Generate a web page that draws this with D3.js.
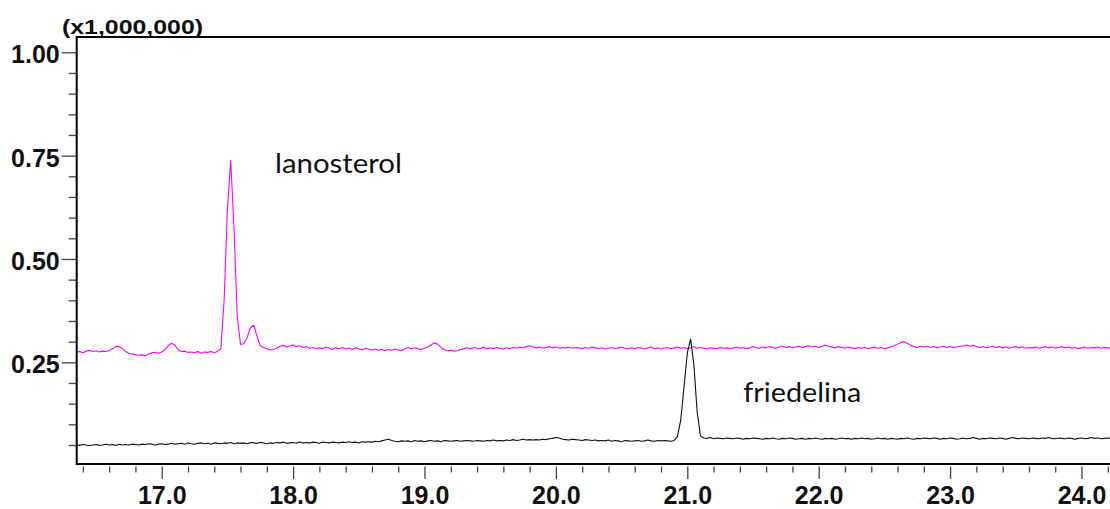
<!DOCTYPE html>
<html>
<head>
<meta charset="utf-8">
<script src="https://cdn.jsdelivr.net/npm/d3@7"></script>
<style>
  html, body { margin: 0; padding: 0; background: #fff; }
  svg { display: block; }
</style>
</head>
<body>
<svg id="chart" width="1110" height="509"></svg>
<script>
// Chromatogram scan grid (retention time, min)
const scanStart = 16.35;
const scanStep = 0.025;

// Detector response in thousands of counts, one value per scan
const lanosterolTrace = [
  274,276,273,277,279,276,278,275,277,276,
  278,283,288,289,283,276,272,270,268,267,
  268,266,270,273,274,272,275,281,290,296,
  292,280,276,277,274,275,273,276,272,275,
  274,276,273,277,282,400,620,739,575,360,
  293,295,310,333,340,313,290,286,283,280,
  281,284,289,291,287,290,292,288,290,286,
  288,284,286,282,285,283,287,284,281,285,
  283,286,282,284,281,285,283,280,284,282,
  280,282,279,281,278,281,279,282,280,278,
  283,286,282,285,283,281,284,287,292,297,
  294,286,281,278,279,277,278,281,283,285,
  282,286,284,283,287,282,285,283,286,284,
  282,285,283,286,284,287,285,288,290,287,
  285,287,284,286,288,285,287,284,286,285,
  287,284,286,285,283,286,284,287,285,283,
  285,282,284,286,283,285,287,284,282,285,
  283,286,284,282,285,287,283,285,282,284,
  286,283,285,287,284,286,283,285,288,284,
  286,284,282,285,284,283,286,284,285,283,
  285,287,284,286,283,285,288,285,284,287,
  285,288,286,284,287,289,286,288,285,287,
  289,286,288,290,287,289,286,288,292,289,
  287,285,288,286,284,287,285,283,286,284,
  286,283,285,287,284,286,283,285,287,290,
  294,298,300,296,291,288,286,289,287,289,
  286,288,285,287,289,286,288,285,287,289,
  290,292,289,291,288,286,288,285,287,289,
  286,288,285,287,284,286,288,285,287,284,
  286,285,287,284,286,288,285,287,284,286,
  288,285,287,284,286,283,285,287,284,286,
  285,287,284,286,285,284
];

const friedelinaTrace = [
  50,49,51,50,48,50,51,49,50,52,
  50,51,49,52,50,51,50,52,51,50,
  52,51,53,52,50,52,53,51,52,54,
  52,53,54,52,55,53,52,54,55,53,
  54,52,55,54,53,55,54,56,53,55,
  54,55,53,56,55,54,56,55,53,55,
  54,56,55,57,54,55,56,54,57,55,
  56,55,57,56,54,57,56,55,57,56,
  55,57,56,58,56,57,55,58,57,58,
  57,59,58,60,62,64,61,59,58,60,
  59,60,58,61,59,60,58,60,61,59,
  60,58,61,60,59,60,61,59,60,61,
  60,59,61,60,59,61,60,62,60,61,
  60,62,61,63,61,62,64,62,63,62,
  63,62,64,63,65,66,68,67,64,63,
  62,64,63,62,61,63,62,61,62,60,
  61,60,62,59,61,60,58,61,60,59,
  60,61,59,60,62,60,59,61,60,61,
  60,59,61,70,110,190,272,306,245,130,
  72,67,66,68,65,67,66,65,67,66,
  65,67,66,64,66,65,67,66,65,64,
  66,65,67,65,64,66,65,67,66,64,
  65,66,64,66,65,67,65,64,66,65,
  66,64,65,67,65,66,64,66,65,67,
  65,66,64,65,67,65,66,64,66,65,
  64,66,65,67,65,64,66,65,67,66,
  65,67,66,64,66,65,67,66,64,65,
  67,65,66,68,66,64,66,65,67,66,
  65,67,66,64,66,68,66,65,67,66,
  65,67,66,65,67,66,68,66,65,67,
  66,65,67,66,64,66,67,65,66,68,
  66,67,65,66,67,66
];

// Axis ticks
const xMajorTicks = [17, 18, 19, 20, 21, 22, 23, 24];
const xMinorTicks = [16.4, 16.6, 16.8, 17.2, 17.4, 17.6, 17.8, 18.2, 18.4, 18.6, 18.8,
  19.2, 19.4, 19.6, 19.8, 20.2, 20.4, 20.6, 20.8, 21.2, 21.4, 21.6, 21.8,
  22.2, 22.4, 22.6, 22.8, 23.2, 23.4, 23.6, 23.8, 24.2];
const yMajorTicks = [0.25, 0.50, 0.75, 1.00];
const yMinorTicks = [0.05, 0.10, 0.15, 0.20, 0.30, 0.35, 0.40, 0.45,
  0.55, 0.60, 0.65, 0.70, 0.80, 0.85, 0.90, 0.95];

const unitLabel = "(x1,000,000)";

// Peak annotations: [text, retention time, intensity (x1,000,000)]
const peakLabels = [
  ["lanosterol", 17.862, 0.707],
  ["friedelina", 21.426, 0.155]
];

const traces = [
  { name: "lanosterol", values: lanosterolTrace, color: "#ff00ff" },
  { name: "friedelina", values: friedelinaTrace, color: "#111111" }
];

// Layout
const svg = d3.select("#chart");
const plot = { left: 76.7, right: 1110, top: 37, bottom: 464 };

const x = d3.scaleLinear().domain([16.353, 24.217]).range([plot.left, plot.right]);
const y = d3.scaleLinear().domain([0.004, 1.037]).range([plot.bottom, plot.top]);

svg.append("defs").append("clipPath").attr("id", "plot-clip")
  .append("rect")
  .attr("x", plot.left).attr("y", plot.top)
  .attr("width", plot.right - plot.left).attr("height", plot.bottom - plot.top);

// Traces
const line = d3.line()
  .x((d, i) => x(scanStart + i * scanStep))
  .y(d => y(d / 1000));

const traceGroup = svg.append("g").attr("clip-path", "url(#plot-clip)");
traces.forEach(t => {
  traceGroup.append("path")
    .datum(t.values)
    .attr("fill", "none")
    .attr("stroke", t.color)
    .attr("stroke-width", 1.1)
    .attr("stroke-linejoin", "round")
    .attr("d", line);
});

// Axes
const tickFont = "'Liberation Sans', Arial, sans-serif";

function styleAxis(g) {
  g.select(".domain").remove();
  g.selectAll(".tick line").attr("stroke", "#444").attr("stroke-width", 1.3);
  g.selectAll(".tick text")
    .attr("fill", "#111")
    .style("font-family", tickFont)
    .style("font-weight", "bold")
    .style("font-size", "25px");
}

svg.append("g")
  .attr("transform", `translate(${plot.left},0)`)
  .call(d3.axisLeft(y).tickValues(yMinorTicks).tickSize(8).tickFormat(""))
  .call(styleAxis);

svg.append("g")
  .attr("transform", `translate(${plot.left},0)`)
  .call(d3.axisLeft(y).tickValues(yMajorTicks).tickSize(15).tickPadding(2)
    .tickFormat(d3.format(".2f")))
  .call(styleAxis)
  .call(g => g.selectAll(".tick text").attr("dy", "0.42em"));

svg.append("g")
  .attr("transform", `translate(0,${plot.bottom + 2.5})`)
  .call(d3.axisBottom(x).tickValues(xMinorTicks).tickSize(6).tickFormat(""))
  .call(styleAxis);

svg.append("g")
  .attr("transform", `translate(0,${plot.bottom + 2.5})`)
  .call(d3.axisBottom(x).tickValues(xMajorTicks).tickSize(12.5).tickPadding(7.5)
    .tickFormat(d3.format(".1f")))
  .call(styleAxis);

// Frame: left, top and bottom edges
const frame = svg.append("g").attr("stroke", "#000").attr("stroke-width", 2).attr("fill", "none");
frame.append("line").attr("x1", plot.left).attr("x2", plot.left).attr("y1", plot.top - 1).attr("y2", plot.bottom + 1);
frame.append("line").attr("x1", plot.left).attr("x2", plot.right).attr("y1", plot.top).attr("y2", plot.top);
frame.append("line").attr("x1", plot.left).attr("x2", plot.right).attr("y1", plot.bottom).attr("y2", plot.bottom);

// Unit label above the intensity axis
svg.append("text")
  .attr("x", 62).attr("y", 34)
  .attr("textLength", 141).attr("lengthAdjust", "spacingAndGlyphs")
  .style("font-family", tickFont)
  .style("font-weight", "bold")
  .style("font-size", "20.5px")
  .attr("fill", "#111")
  .text(unitLabel);

// Peak labels
const labelWidths = { lanosterol: 127, friedelina: 118 };
svg.selectAll("text.peak")
  .data(peakLabels)
  .join("text")
  .attr("class", "peak")
  .attr("x", d => x(d[1]))
  .attr("y", d => y(d[2]))
  .attr("textLength", d => labelWidths[d[0]])
  .attr("lengthAdjust", "spacingAndGlyphs")
  .style("font-family", "Lato, 'Open Sans', sans-serif")
  .style("font-size", "27px")
  .attr("fill", "#111")
  .text(d => d[0]);
</script>
</body>
</html>
